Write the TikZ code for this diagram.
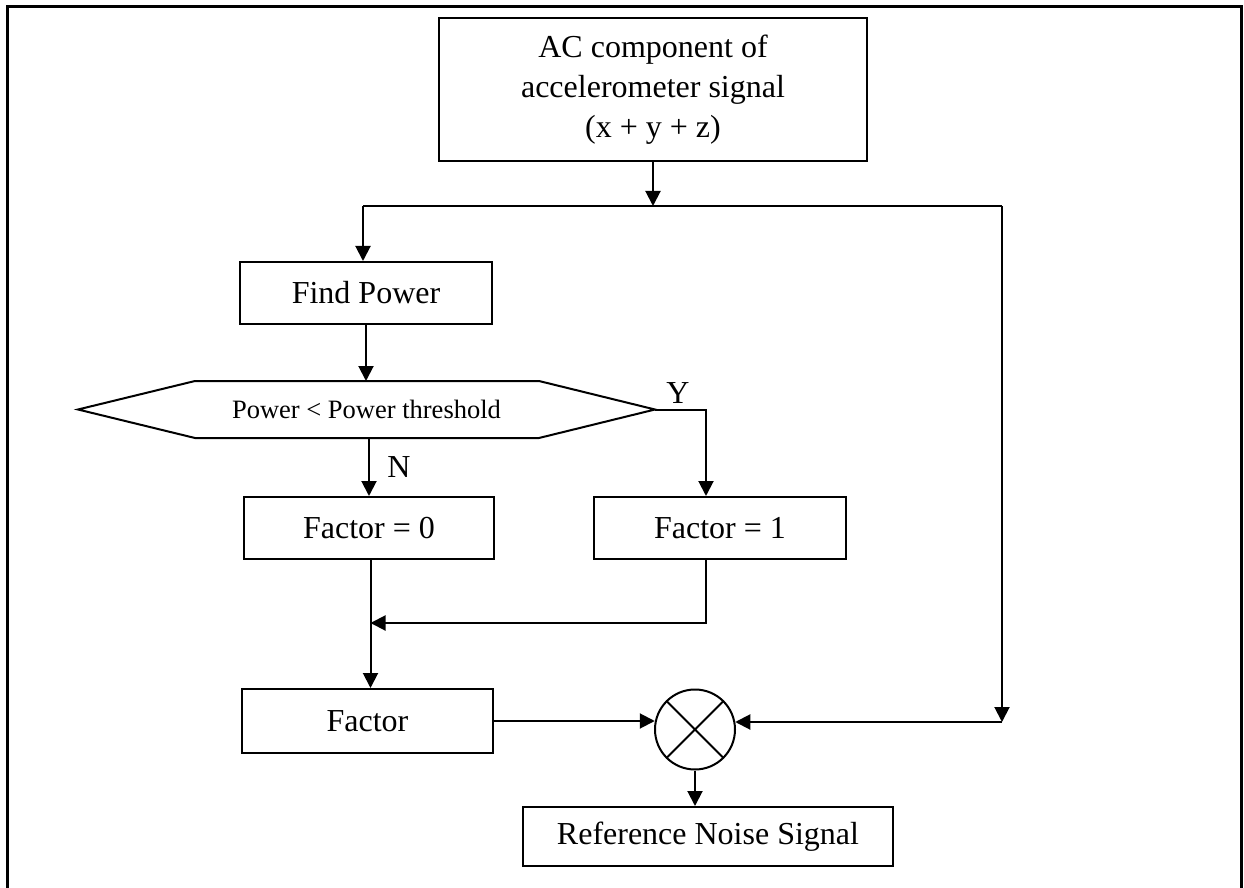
\documentclass[tikz,border=0pt]{standalone}
\usepackage{fontspec}
\setmainfont{Liberation Serif}
\usetikzlibrary{arrows.meta}

\tikzset{
  box/.style={draw, line width=1pt, rectangle, inner sep=0pt, align=center,
              font=\fontsize{16}{20}\selectfont},
  lbl/.style={inner sep=0pt, font=\fontsize{16}{20}\selectfont},
  wire/.style={line width=1pt},
  arr/.style={wire, -{Triangle[length=7.5pt,width=7.5pt]}},
  frame/.style={line width=1.5pt}
}

\begin{document}
\begin{tikzpicture}[x=0.5pt, y=-0.5pt]
  \path[use as bounding box] (0,0) rectangle (1244,888);

  % open frame around the chart
  \draw[frame] (7.5,888) -- (7.5,7) -- (1241.5,7) -- (1241.5,888);

  % blocks
  \node[box, minimum width=214pt, minimum height=71.5pt] (src) at (653,89.5)
    {AC component of\\accelerometer signal\\(x + y + z)};
  \node[box, minimum width=126pt, minimum height=31pt] (find) at (366,293) {Find Power};
  \node[box, minimum width=125pt, minimum height=31pt] (fzero) at (369,528) {Factor = 0};
  \node[box, minimum width=126pt, minimum height=31pt] (fone) at (720,528) {Factor = 1};
  \node[box, minimum width=125.5pt, minimum height=32pt] (factor) at (367.5,721) {Factor};
  \node[box, minimum width=185pt, minimum height=29.5pt] (ref) at (708,836.5) {Reference Noise Signal};

  % multiplier
  \node[draw, line width=1pt, circle, minimum size=40pt, inner sep=0pt] (mult) at (695,729.5) {};
  \draw[wire] (mult.45) -- (mult.225) (mult.135) -- (mult.315);

  % decision hexagon
  \node[inner sep=0pt, font=\fontsize{13.25}{16}\selectfont] (test) at (366.5,409.5) {Power < Power threshold};
  \coordinate (hexL) at (78,409.5);
  \coordinate (hexR) at (655,409.5);
  \coordinate (hexT) at (366,381);
  \coordinate (hexB) at (366.5,438);
  \draw[wire, line join=miter] (hexL) -- (195,381) -- (539,381) -- (hexR)
        -- (539,438) -- (195,438) -- cycle;

  % branch labels
  \node[lbl] (ylab) at (678,393) {Y};
  \node[lbl] (nlab) at (399,467) {N};

  % junction points
  \coordinate (splitL) at (363,206);
  \coordinate (splitR) at (1002,206);
  \coordinate (ycor) at (706,409.5);
  \coordinate (fx) at (370.5,623);
  \coordinate (rc) at (1002,722);

  % connectors
  \draw[arr] (src.south) -- (src.south |- splitL);
  \draw[wire] (splitL) -- (splitR);
  \draw[arr] (splitL) -- (splitL |- find.north);
  \draw[arr] (find.south) -- (hexT);
  \draw[arr] (fzero.north |- hexB) -- (fzero.north);
  \draw[arr] (hexR) -| (ycor |- fone.north);
  \draw[wire] (fx |- fzero.south) -- (fx);
  \draw[arr] (ycor |- fone.south) |- (fx);
  \draw[arr] (fx) -- (fx |- factor.north);
  \draw[arr] (splitR) -- (rc);
  \draw[arr] (rc) -- (mult.11 |- rc);
  \draw[arr] (factor.east) -- (mult.169 |- factor.east);
  \draw[arr] (mult.south) -- (mult.south |- ref.north);
\end{tikzpicture}
\end{document}
